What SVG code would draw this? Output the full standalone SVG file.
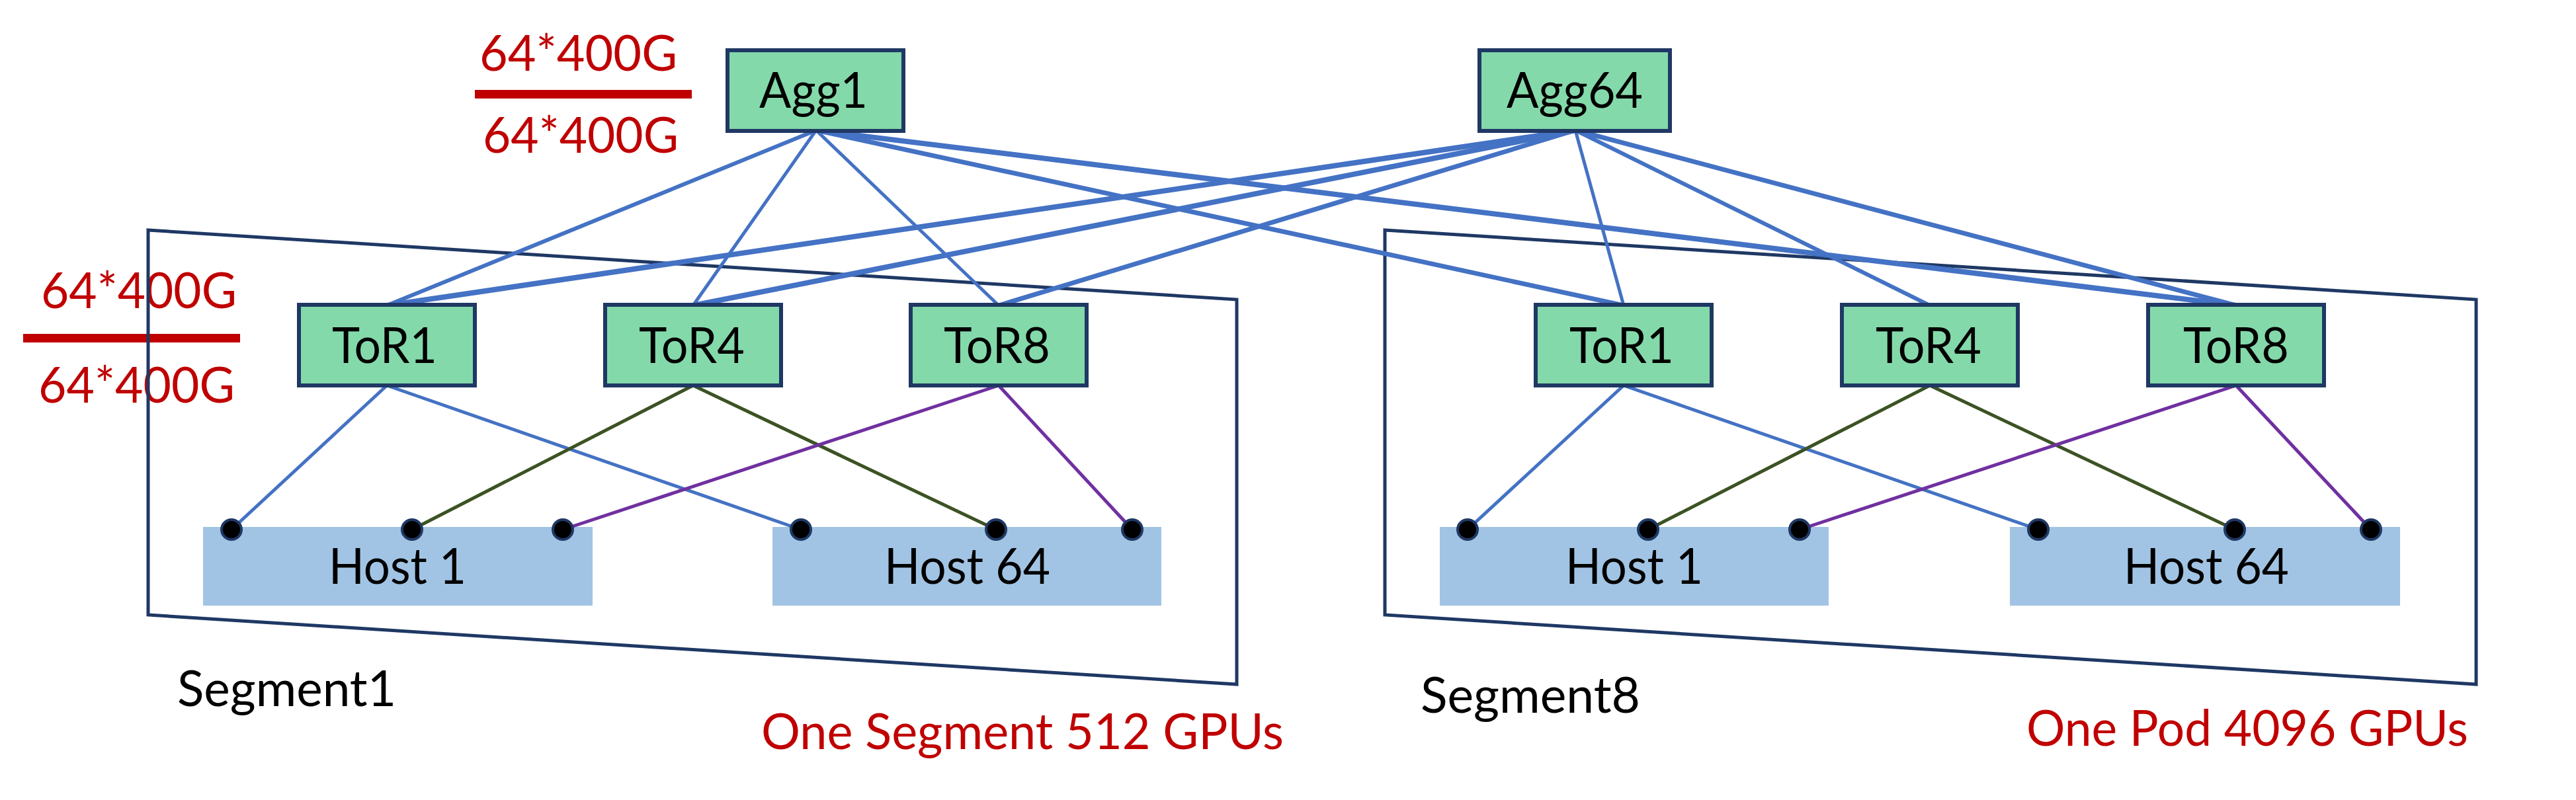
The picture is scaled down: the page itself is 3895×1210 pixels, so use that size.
<svg xmlns="http://www.w3.org/2000/svg" width="3895" height="1210" viewBox="0 0 3895 1210">
<style>
.t{font-family:Lato,"Liberation Sans",sans-serif;font-size:75px;fill:#000}
.r{fill:#C00000}
.sw{fill:#84D9AA;stroke:#1F3864;stroke-width:6}
.host{fill:#A2C4E4}
.seg{fill:none;stroke:#1F3864;stroke-width:5}
.up{stroke:#4472C4;fill:none}
.b{stroke:#4472C4;stroke-width:5}
.g{stroke:#3B5323;stroke-width:5}
.p{stroke:#7030A0;stroke-width:5}
.dot{fill:#000;stroke:#1F3864;stroke-width:4}
</style>
<rect width="3895" height="1210" fill="#fff"/>
<g id="labels">
<text class="t r" x="725" y="107" textLength="299" lengthAdjust="spacingAndGlyphs">64*400G</text>
<rect x="718" y="136" width="328" height="13" fill="#C00000"/>
<text class="t r" x="730" y="231" textLength="296" lengthAdjust="spacingAndGlyphs">64*400G</text>
<text class="t r" x="62" y="466" textLength="296" lengthAdjust="spacingAndGlyphs">64*400G</text>
<rect x="35" y="505" width="328" height="13" fill="#C00000"/>
<text class="t r" x="58" y="609" textLength="297" lengthAdjust="spacingAndGlyphs">64*400G</text>
<text class="t" x="268" y="1068" textLength="331" lengthAdjust="spacingAndGlyphs">Segment1</text>
<text class="t" x="2148" y="1078" textLength="332" lengthAdjust="spacingAndGlyphs">Segment8</text>
<text class="t r" x="1151" y="1133" textLength="790" lengthAdjust="spacingAndGlyphs">One Segment 512 GPUs</text>
<text class="t r" x="3064" y="1128" textLength="668" lengthAdjust="spacingAndGlyphs">One Pod 4096 GPUs</text>
</g>
<g id="segment1"><polygon class="seg" points="224,348 1870,453 1870,1035 224,930"/></g>
<g id="segment8"><polygon class="seg" points="2094,348 3744,453 3744,1035 2094,930"/></g>
<g id="hosts">
<g id="host1-s1"><rect class="host" x="307" y="797" width="589" height="119"/><text class="t" x="497" y="883" textLength="208" lengthAdjust="spacingAndGlyphs">Host 1</text></g>
<g id="host64-s1"><rect class="host" x="1168" y="797" width="588" height="119"/><text class="t" x="1337" y="883" textLength="251" lengthAdjust="spacingAndGlyphs">Host 64</text></g>
<g id="host1-s8"><rect class="host" x="2177" y="797" width="588" height="119"/><text class="t" x="2367" y="883" textLength="208" lengthAdjust="spacingAndGlyphs">Host 1</text></g>
<g id="host64-s8"><rect class="host" x="3039" y="797" width="590" height="119"/><text class="t" x="3211" y="883" textLength="250" lengthAdjust="spacingAndGlyphs">Host 64</text></g>
</g>
<g id="connectors">
<line class="up" stroke-width="6" x1="1234" y1="197" x2="585" y2="462"/>
<line class="up" stroke-width="5" x1="1234" y1="197" x2="1048" y2="462"/>
<line class="up" stroke-width="5" x1="1234" y1="197" x2="1510" y2="462"/>
<line class="up" stroke-width="7" x1="1234" y1="197" x2="2455" y2="462"/>
<line class="up" stroke-width="8" x1="1234" y1="197" x2="3381" y2="462"/>
<line class="up" stroke-width="8" x1="2382" y1="197" x2="585" y2="462"/>
<line class="up" stroke-width="8" x1="2382" y1="197" x2="1048" y2="462"/>
<line class="up" stroke-width="7" x1="2382" y1="197" x2="1510" y2="462"/>
<line class="up" stroke-width="5" x1="2382" y1="197" x2="2455" y2="462"/>
<line class="up" stroke-width="6" x1="2382" y1="197" x2="2918" y2="462"/>
<line class="up" stroke-width="7" x1="2382" y1="197" x2="3381" y2="462"/>
<line class="b" x1="585" y1="583" x2="350" y2="801"/>
<line class="b" x1="585" y1="583" x2="1211" y2="801"/>
<line class="g" x1="1048" y1="583" x2="623" y2="801"/>
<line class="g" x1="1048" y1="583" x2="1506" y2="801"/>
<line class="p" x1="1510" y1="583" x2="851" y2="801"/>
<line class="p" x1="1510" y1="583" x2="1712" y2="801"/>
<line class="b" x1="2455" y1="583" x2="2219" y2="801"/>
<line class="b" x1="2455" y1="583" x2="3082" y2="801"/>
<line class="g" x1="2918" y1="583" x2="2492" y2="801"/>
<line class="g" x1="2918" y1="583" x2="3379" y2="801"/>
<line class="p" x1="3381" y1="583" x2="2721" y2="801"/>
<line class="p" x1="3381" y1="583" x2="3585" y2="801"/>
</g>
<g id="ports">
<circle class="dot" cx="350" cy="801" r="15"/>
<circle class="dot" cx="623" cy="801" r="15"/>
<circle class="dot" cx="851" cy="801" r="15"/>
<circle class="dot" cx="1211" cy="801" r="15"/>
<circle class="dot" cx="1506" cy="801" r="15"/>
<circle class="dot" cx="1712" cy="801" r="15"/>
<circle class="dot" cx="2219" cy="801" r="15"/>
<circle class="dot" cx="2492" cy="801" r="15"/>
<circle class="dot" cx="2721" cy="801" r="15"/>
<circle class="dot" cx="3082" cy="801" r="15"/>
<circle class="dot" cx="3379" cy="801" r="15"/>
<circle class="dot" cx="3585" cy="801" r="15"/>
</g>
<g id="agg1"><rect class="sw" x="1100" y="76" width="266" height="122"/><text class="t" x="1148" y="163" textLength="164" lengthAdjust="spacingAndGlyphs">Agg1</text></g>
<g id="agg64"><rect class="sw" x="2237" y="76" width="288" height="122"/><text class="t" x="2278" y="163" textLength="206" lengthAdjust="spacingAndGlyphs">Agg64</text></g>
<g id="tor1-s1"><rect class="sw" x="452" y="461" width="266" height="122"/><text class="t" x="502" y="549" textLength="159" lengthAdjust="spacingAndGlyphs">ToR1</text></g>
<g id="tor4-s1"><rect class="sw" x="915" y="461" width="266" height="122"/><text class="t" x="966" y="549" textLength="160" lengthAdjust="spacingAndGlyphs">ToR4</text></g>
<g id="tor8-s1"><rect class="sw" x="1377" y="461" width="266" height="122"/><text class="t" x="1427" y="549" textLength="161" lengthAdjust="spacingAndGlyphs">ToR8</text></g>
<g id="tor1-s8"><rect class="sw" x="2322" y="461" width="266" height="122"/><text class="t" x="2373" y="549" textLength="158" lengthAdjust="spacingAndGlyphs">ToR1</text></g>
<g id="tor4-s8"><rect class="sw" x="2785" y="461" width="266" height="122"/><text class="t" x="2836" y="549" textLength="160" lengthAdjust="spacingAndGlyphs">ToR4</text></g>
<g id="tor8-s8"><rect class="sw" x="3248" y="461" width="266" height="122"/><text class="t" x="3301" y="549" textLength="160" lengthAdjust="spacingAndGlyphs">ToR8</text></g>
</svg>
